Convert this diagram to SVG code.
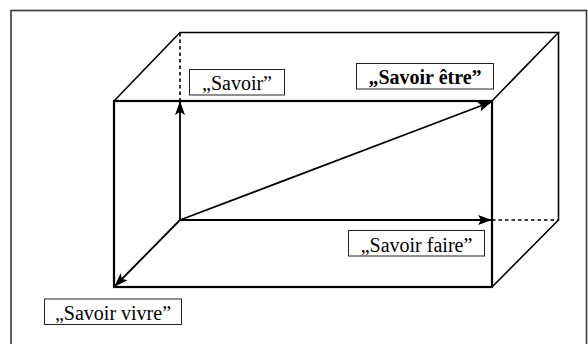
<svg xmlns="http://www.w3.org/2000/svg" width="588" height="344" viewBox="0 0 588 344">
<style>
.frame{fill:none;stroke:#3a3a3a;stroke-width:1.6}
.edge{fill:none;stroke:#000;stroke-width:1.6;stroke-linecap:round}
.front{fill:none;stroke:#000;stroke-width:2.2}
.dash{fill:none;stroke:#000;stroke-width:1.6;stroke-dasharray:3.5,3}
.arr{fill:none;stroke:#000;stroke-width:1.8}
.box{fill:#fff;stroke:#222;stroke-width:1}
.lbl{font-family:"Liberation Serif","Times New Roman",serif;font-size:20px;fill:#000;text-anchor:middle}
.bold{font-weight:bold}
</style>
<defs>
<marker id="ah" viewBox="0 0 14 10" refX="13" refY="5" markerWidth="14" markerHeight="10" markerUnits="userSpaceOnUse" orient="auto">
<path d="M0,0 L14,5 L0,10 L3,5 z" fill="#000"/>
</marker>
</defs>
<rect class="frame" x="11" y="10.5" width="575.5" height="340"/>
<g id="box">
<polyline class="edge" points="114,101 180,32.5 558.5,32.5 558.5,220 492,287"/>
<line class="edge" x1="492" y1="101" x2="558.5" y2="32.5"/>
<line class="dash" x1="180" y1="33" x2="180" y2="101"/>
<line class="dash" x1="492" y1="220" x2="558.5" y2="220"/>
<rect class="front" x="114" y="101" width="378" height="186"/>
</g>
<g id="connectors">
<line class="arr" x1="180" y1="220" x2="180" y2="102" marker-end="url(#ah)"/>
<line class="arr" x1="180" y1="220" x2="491" y2="220" marker-end="url(#ah)"/>
<line class="arr" x1="180" y1="220" x2="491" y2="102" marker-end="url(#ah)"/>
<line class="arr" x1="180" y1="220" x2="115" y2="286" marker-end="url(#ah)"/>
</g>
<g id="savoir">
<rect class="box" x="189.5" y="69.5" width="95" height="25.5"/>
<text class="lbl" x="237" y="89.5">„Savoir”</text>
</g>
<g id="savoir-etre">
<rect class="box" x="356.5" y="63.5" width="137" height="25.5"/>
<text class="lbl bold" x="425" y="83.5">„Savoir être”</text>
</g>
<g id="savoir-faire">
<rect class="box" x="348.5" y="230.5" width="136" height="25.5"/>
<text class="lbl" x="416.5" y="251.5">„Savoir faire”</text>
</g>
<g id="savoir-vivre">
<rect class="box" x="44.5" y="299" width="137" height="25.5"/>
<text class="lbl" x="113" y="319.5">„Savoir vivre”</text>
</g>
</svg>
